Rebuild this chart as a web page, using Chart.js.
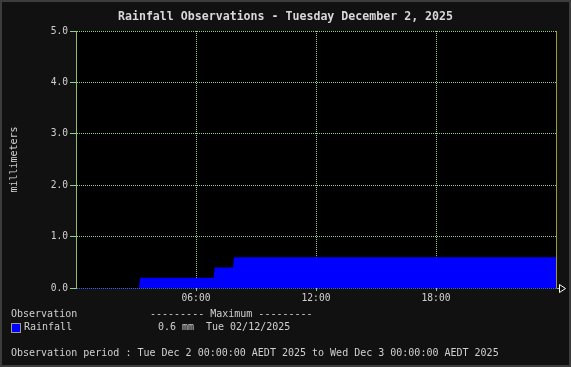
<!DOCTYPE html>
<html>
<head>
<meta charset="utf-8">
<script src="https://cdn.jsdelivr.net/npm/chart.js@4/dist/chart.umd.min.js"></script>
<style>
  html, body { margin: 0; padding: 0; background: #111; }
  #frame {
    position: relative; width: 571px; height: 367px; box-sizing: border-box;
    background: #111; border: 2px solid #3c3c3c; overflow: hidden;
    font-family: "DejaVu Sans Mono", monospace; color: #d0d0d0;
  }
  #chart { position: absolute; left: -2px; top: -2px; }
  .txt { position: absolute; white-space: pre; font-size: 10px; line-height: 12px; }
  #title { position: absolute; left: 0; width: 567px; top: 7px; text-align: center;
    font-size: 11.6px; font-weight: bold; line-height: 14px; color: #d8d8d8; white-space: pre; }
  #swatch { position: absolute; left: 9px; top: 321px; width: 8px; height: 8px;
    background: #0000ff; border: 1px solid #9a9a9a; }
</style>
</head>
<body>
<div id="frame">
  <canvas id="chart" width="571" height="367"></canvas>
  <div id="title">Rainfall Observations - Tuesday December 2, 2025</div>
  <div class="txt" style="left:9px; top:306px;">Observation</div>
  <div class="txt" style="left:148px; top:306px;">--------- Maximum ---------</div>
  <div id="swatch"></div>
  <div class="txt" style="left:22px; top:319px;">Rainfall</div>
  <div class="txt" style="left:156px; top:319px;">0.6 mm</div>
  <div class="txt" style="left:204px; top:319px;">Tue 02/12/2025</div>
  <div class="txt" style="left:9px; top:345px;">Observation period : Tue Dec 2 00:00:00 AEDT 2025 to Wed Dec 3 00:00:00 AEDT 2025</div>
</div>
<script>
// hours since midnight, cumulative rainfall in mm
const hours = [0, 3.15, 3.2, 6.88, 6.93, 7.85, 7.9, 24];
const rainfall = [0, 0, 0.2, 0.2, 0.4, 0.4, 0.6, 0.6];
const xTickHours = [6, 12, 18];
const xTickLabels = ["06:00", "12:00", "18:00"];
const yTicks = [0, 1, 2, 3, 4, 5];

const gridGreen = "#92d08e";
const axisGreen = "#8cbf6c";

const plotBg = {
  id: "plotBg",
  beforeDraw(chart) {
    const { ctx, chartArea: a } = chart;
    ctx.save();
    ctx.fillStyle = "#000000";
    ctx.fillRect(a.left, a.top, a.right - a.left, a.bottom - a.top);
    ctx.restore();
  }
};

const edgePlugin = {
  id: "edge",
  afterDraw(chart) {
    const { ctx, chartArea } = chart;
    ctx.save();
    // right border of plot
    ctx.strokeStyle = "#9a9a3a";
    ctx.lineWidth = 1;
    ctx.beginPath();
    ctx.moveTo(Math.round(chartArea.right) + 0.5, chartArea.top);
    ctx.lineTo(Math.round(chartArea.right) + 0.5, chartArea.bottom);
    ctx.stroke();
    // arrow at end of x axis
    const y = Math.round(chartArea.bottom) + 0.5;
    const x = Math.round(chartArea.right) + 0.5;
    ctx.strokeStyle = "#9ab0a0";
    ctx.beginPath();
    ctx.moveTo(x, y);
    ctx.lineTo(x + 3, y);
    ctx.stroke();
    ctx.strokeStyle = "#ffffff";
    ctx.beginPath();
    ctx.moveTo(x + 3, y - 4);
    ctx.lineTo(x + 9, y);
    ctx.lineTo(x + 3, y + 4);
    ctx.closePath();
    ctx.stroke();
    ctx.restore();
  }
};

new Chart(document.getElementById("chart"), {
  type: "line",
  data: {
    datasets: [{
      label: "Rainfall",
      data: hours.map((h, i) => ({ x: h, y: rainfall[i] })),
      borderWidth: 0,
      borderColor: "#0000ff",
      backgroundColor: "#0000ff",
      pointRadius: 0,
      fill: "origin",
      tension: 0
    }]
  },
  options: {
    responsive: false,
    animation: false,
    layout: { padding: { top: 31, right: 15, bottom: 0, left: 0 } },
    plugins: { legend: { display: false }, tooltip: { enabled: false } },
    scales: {
      x: {
        type: "linear",
        min: 0,
        max: 24,
        afterFit: (s) => { s.height = 79; },
        afterBuildTicks: (s) => { s.ticks = xTickHours.map((v) => ({ value: v })); },
        ticks: {
          color: "#d0d0d0",
          padding: 2,
          maxRotation: 0,
          font: { family: "DejaVu Sans Mono", size: 9.6 },
          callback: (v) => xTickLabels[xTickHours.indexOf(v)]
        },
        grid: { color: gridGreen, tickLength: 3, tickColor: gridGreen, lineWidth: 1 },
        border: { display: false, dash: [1, 1] }
      },
      y: {
        min: 0,
        max: 5,
        afterFit: (s) => { s.width = 76; },
        afterBuildTicks: (s) => { s.ticks = yTicks.map((v) => ({ value: v })); },
        title: {
          display: true,
          text: "millimeters",
          color: "#d0d0d0",
          padding: { top: 8, bottom: 0 },
          font: { family: "DejaVu Sans Mono", size: 10 }
        },
        ticks: {
          color: "#d0d0d0",
          padding: 2,
          font: { family: "DejaVu Sans Mono", size: 9.6 },
          callback: (v) => Number(v).toFixed(1)
        },
        grid: {
          color: (c) => (c.tick && c.tick.value === 0 ? "#3a5cff" : gridGreen),
          tickLength: 6,
          tickColor: gridGreen,
          lineWidth: 1
        },
        border: { display: true, color: axisGreen, width: 1, dash: [1, 1] }
      }
    }
  },
  plugins: [plotBg, edgePlugin]
});
</script>
</body>
</html>
